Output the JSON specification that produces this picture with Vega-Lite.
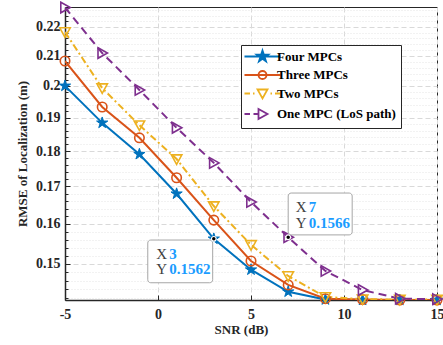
{
  "$schema": "https://vega.github.io/schema/vega-lite/v6.json",
  "width": 372,
  "height": 293,
  "autosize": "none",
  "padding": {"left": 65, "top": 7, "right": 6, "bottom": 45},
  "background": "white",
  "config": {
    "font": "Liberation Serif",
    "view": {"stroke": "#262626", "strokeWidth": 1},
    "axis": {
      "labelFont": "Liberation Serif",
      "labelFontWeight": "bold",
      "labelFontSize": 14,
      "labelColor": "#262626",
      "titleFont": "Liberation Serif",
      "titleFontWeight": "bold",
      "titleFontSize": 13,
      "titleColor": "#262626",
      "domainColor": "#262626",
      "domainWidth": 1.5,
      "tickColor": "#262626",
      "gridColor": "#d9d9d9",
      "labelOverlap": false,
      "labelFlush": false
    }
  },
  "datasets": {
    "curves": [
      {"series": "Four MPCs", "snr": -5, "rmse": 0.2000},
      {"series": "Four MPCs", "snr": -3, "rmse": 0.1884},
      {"series": "Four MPCs", "snr": -1, "rmse": 0.1791},
      {"series": "Four MPCs", "snr": 1, "rmse": 0.1680},
      {"series": "Four MPCs", "snr": 3, "rmse": 0.1562},
      {"series": "Four MPCs", "snr": 5, "rmse": 0.1486},
      {"series": "Four MPCs", "snr": 7, "rmse": 0.1434},
      {"series": "Four MPCs", "snr": 9, "rmse": 0.1416},
      {"series": "Four MPCs", "snr": 11, "rmse": 0.1415},
      {"series": "Four MPCs", "snr": 13, "rmse": 0.1415},
      {"series": "Four MPCs", "snr": 15, "rmse": 0.1415},
      {"series": "Three MPCs", "snr": -5, "rmse": 0.2082},
      {"series": "Three MPCs", "snr": -3, "rmse": 0.1933},
      {"series": "Three MPCs", "snr": -1, "rmse": 0.1839},
      {"series": "Three MPCs", "snr": 1, "rmse": 0.1724},
      {"series": "Three MPCs", "snr": 3, "rmse": 0.1610},
      {"series": "Three MPCs", "snr": 5, "rmse": 0.1507},
      {"series": "Three MPCs", "snr": 7, "rmse": 0.1450},
      {"series": "Three MPCs", "snr": 9, "rmse": 0.1418},
      {"series": "Three MPCs", "snr": 11, "rmse": 0.1416},
      {"series": "Three MPCs", "snr": 13, "rmse": 0.1415},
      {"series": "Three MPCs", "snr": 15, "rmse": 0.1415},
      {"series": "Two MPCs", "snr": -5, "rmse": 0.2182},
      {"series": "Two MPCs", "snr": -3, "rmse": 0.1993},
      {"series": "Two MPCs", "snr": -1, "rmse": 0.1877},
      {"series": "Two MPCs", "snr": 1, "rmse": 0.1777},
      {"series": "Two MPCs", "snr": 3, "rmse": 0.1647},
      {"series": "Two MPCs", "snr": 5, "rmse": 0.1547},
      {"series": "Two MPCs", "snr": 7, "rmse": 0.1471},
      {"series": "Two MPCs", "snr": 9, "rmse": 0.1422},
      {"series": "Two MPCs", "snr": 11, "rmse": 0.1417},
      {"series": "Two MPCs", "snr": 13, "rmse": 0.1416},
      {"series": "Two MPCs", "snr": 15, "rmse": 0.1416},
      {"series": "One MPC (LoS path)", "snr": -5, "rmse": 0.2270},
      {"series": "One MPC (LoS path)", "snr": -3, "rmse": 0.2109},
      {"series": "One MPC (LoS path)", "snr": -1, "rmse": 0.1987},
      {"series": "One MPC (LoS path)", "snr": 1, "rmse": 0.1869},
      {"series": "One MPC (LoS path)", "snr": 3, "rmse": 0.1766},
      {"series": "One MPC (LoS path)", "snr": 5, "rmse": 0.1658},
      {"series": "One MPC (LoS path)", "snr": 7, "rmse": 0.1566},
      {"series": "One MPC (LoS path)", "snr": 9, "rmse": 0.1483},
      {"series": "One MPC (LoS path)", "snr": 11, "rmse": 0.1438},
      {"series": "One MPC (LoS path)", "snr": 13, "rmse": 0.1418},
      {"series": "One MPC (LoS path)", "snr": 15, "rmse": 0.1417}
    ],
    "tips": [
      {"tip": 1, "snr": 3, "rmse": 0.1562, "left": -0.55, "right": 2.94, "top": 0.1559, "bottom": 0.1455},
      {"tip": 2, "snr": 7, "rmse": 0.1566, "left": 7.0, "right": 10.44, "top": 0.1682, "bottom": 0.1572}
    ],
    "tiptext": [
      {"tip": 1, "label": "X", "value": "3", "snr": -0.1, "rmse": 0.1524},
      {"tip": 1, "label": "Y", "value": "0.1562", "snr": -0.1, "rmse": 0.1488},
      {"tip": 2, "label": "X", "value": "7", "snr": 7.4, "rmse": 0.1645},
      {"tip": 2, "label": "Y", "value": "0.1566", "snr": 7.4, "rmse": 0.1603}
    ]
  },
  "encoding": {
    "x": {
      "field": "snr", "type": "quantitative",
      "scale": {"domain": [-5, 15], "nice": false, "zero": false},
      "axis": {
        "values": [-5, 0, 5, 10, 15],
        "labelExpr": "replace(datum.label, '\u2212', '-')",
        "title": "SNR (dB)",
        "grid": true,
        "gridDash": [5, 3],
        "tickSize": -5,
        "labelPadding": 12,
        "titlePadding": 2,
        "titleX": 176
      }
    },
    "y": {
      "field": "rmse", "type": "quantitative",
      "scale": {"type": "log", "domain": [0.14150, 0.2272], "nice": false, "zero": false},
      "axis": {
        "values": [0.142, 0.144, 0.146, 0.148, 0.15, 0.152, 0.154, 0.156, 0.158, 0.16, 0.162, 0.164, 0.166, 0.168, 0.17, 0.172, 0.174, 0.176, 0.178, 0.18, 0.182, 0.184, 0.186, 0.188, 0.19, 0.192, 0.194, 0.196, 0.198, 0.2, 0.202, 0.204, 0.206, 0.208, 0.21, 0.212, 0.214, 0.216, 0.218, 0.22, 0.222, 0.224, 0.226],
        "labelExpr": "abs(datum.value*100 - round(datum.value*100)) < 0.001 ? format(datum.value, '.2~f') : ''",
        "title": "RMSE of Localization (m)",
        "grid": true,
        "gridDash": {"condition": {"test": "abs(datum.value*100 - round(datum.value*100)) < 0.001", "value": [5, 3]}, "value": [1, 2]},
        "gridColor": {"condition": {"test": "abs(datum.value*100 - round(datum.value*100)) < 0.001", "value": "#d9d9d9"}, "value": "#e4e4e4"},
        "tickSize": {"condition": {"test": "abs(datum.value*100 - round(datum.value*100)) < 0.001", "value": -5}, "value": -3},
        "labelPadding": 10,
        "titlePadding": 6
      }
    }
  },
  "layer": [
    {
      "data": {"name": "curves"},
      "mark": {"type": "point", "filled": false, "strokeWidth": 1.8, "opacity": 0},
      "encoding": {
        "color": {
          "field": "series", "type": "nominal",
          "scale": {"domain": ["Four MPCs", "Three MPCs", "Two MPCs", "One MPC (LoS path)"], "range": ["#0072BD", "#D95319", "#EDB120", "#7E2F8E"]},
          "legend": {
            "title": null,
            "orient": "none",
            "legendX": 176,
            "legendY": 38,
            "direction": "vertical",
            "strokeColor": "#262626",
            "fillColor": "white",
            "padding": 5,
            "rowPadding": 1.5,
            "labelFont": "Liberation Serif",
            "labelFontWeight": "bold",
            "labelFontSize": 13,
            "labelColor": "black",
            "symbolSize": 100,
            "symbolOpacity": 1,
            "symbolOffset": 10,
            "labelOffset": 8,
            "symbolStrokeWidth": 1.8
          }
        },
        "fill": {
          "field": "series", "type": "nominal",
          "scale": {"domain": ["Four MPCs", "Three MPCs", "Two MPCs", "One MPC (LoS path)"], "range": ["#0072BD", "transparent", "transparent", "transparent"]},
          "legend": null
        },
        "shape": {
          "field": "series", "type": "nominal",
          "scale": {"domain": ["Four MPCs", "Three MPCs", "Two MPCs", "One MPC (LoS path)"], "range": [
            "M-3.6,0L3.6,0M0,-1.2L0.27,-0.37L1.14,-0.37L0.44,0.14L0.71,0.97L0,0.46L-0.71,0.97L-0.44,0.14L-1.14,-0.37L-0.27,-0.37ZM0,-0.7L0.16,-0.22L0.67,-0.22L0.26,0.08L0.41,0.57L0,0.27L-0.41,0.57L-0.26,0.08L-0.67,-0.22L-0.16,-0.22ZM0,-0.3L0.07,-0.09L0.28,-0.09L0.11,0.03L0.18,0.24L0,0.12L-0.18,0.24L-0.11,0.03L-0.28,-0.09L-0.07,-0.09Z",
            "M-3.6,0L3.6,0M0.8,0A0.8,0.8 0 1,1 -0.8,0A0.8,0.8 0 1,1 0.8,0Z",
            "M-3.6,0L-2.5,0M-1.9,0L-1.6,0M1.6,0L1.9,0M2.5,0L3.6,0M-1,-0.8L1,-0.8L0,1Z",
            "M-3.6,0L-2.5,0M-1.8,0L-0.8,0M-0.8,-1L1,0L-0.8,1Z"
          ]},
          "legend": null
        }
      }
    },
    {
      "data": {"name": "curves"},
      "transform": [{"filter": {"field": "series", "oneOf": ["Four MPCs", "Three MPCs"]}}],
      "mark": {"type": "line", "strokeWidth": 2, "clip": true},
      "encoding": {"color": {"field": "series", "type": "nominal", "legend": null}}
    },
    {
      "data": {"name": "curves"},
      "transform": [{"filter": {"field": "series", "equal": "Two MPCs"}}],
      "mark": {"type": "line", "strokeWidth": 2, "clip": true, "strokeDash": [7, 3, 2, 3]},
      "encoding": {"color": {"field": "series", "type": "nominal", "legend": null}}
    },
    {
      "data": {"name": "curves"},
      "transform": [{"filter": {"field": "series", "equal": "One MPC (LoS path)"}}],
      "mark": {"type": "line", "strokeWidth": 2, "clip": true, "strokeDash": [8, 5]},
      "encoding": {"color": {"field": "series", "type": "nominal", "legend": null}}
    },
    {
      "data": {"name": "curves"},
      "transform": [{"filter": {"field": "series", "equal": "Four MPCs"}}],
      "mark": {"type": "point", "filled": true, "fill": "#0072BD", "stroke": "#0072BD", "strokeWidth": 1, "opacity": 1, "size": 140,
        "shape": "M0,-1L0.2245,-0.309L0.951,-0.309L0.363,0.118L0.588,0.809L0,0.382L-0.588,0.809L-0.363,0.118L-0.951,-0.309L-0.2245,-0.309Z"},
      "encoding": {}
    },
    {
      "data": {"name": "curves"},
      "transform": [{"filter": {"field": "series", "equal": "Three MPCs"}}],
      "mark": {"type": "point", "filled": false, "strokeWidth": 1.6, "opacity": 1, "size": 90,
        "shape": "M1,0A1,1 0 1,1 -1,0A1,1 0 1,1 1,0Z"},
      "encoding": {"color": {"field": "series", "type": "nominal", "legend": null}}
    },
    {
      "data": {"name": "curves"},
      "transform": [{"filter": {"field": "series", "equal": "Two MPCs"}}],
      "mark": {"type": "point", "filled": false, "strokeWidth": 1.6, "opacity": 1, "size": 110,
        "shape": "M-1,-0.8L1,-0.8L0,1Z"},
      "encoding": {"color": {"field": "series", "type": "nominal", "legend": null}}
    },
    {
      "data": {"name": "curves"},
      "transform": [{"filter": {"field": "series", "equal": "One MPC (LoS path)"}}],
      "mark": {"type": "point", "filled": false, "strokeWidth": 1.6, "opacity": 1, "size": 110,
        "shape": "M-0.8,-1L1,0L-0.8,1Z"},
      "encoding": {"color": {"field": "series", "type": "nominal", "legend": null}}
    },
    {
      "data": {"name": "tips"},
      "mark": {"type": "rect", "fill": "white", "stroke": "#a6a6a6", "strokeWidth": 1, "cornerRadius": 3},
      "encoding": {
        "x": {"field": "left", "type": "quantitative"},
        "x2": {"field": "right"},
        "y": {"field": "top", "type": "quantitative"},
        "y2": {"field": "bottom"}
      }
    },
    {
      "data": {"name": "tips"},
      "mark": {"type": "point", "filled": true, "fill": "black", "stroke": "white", "strokeWidth": 1.2, "size": 22, "opacity": 1, "shape": "circle"},
      "encoding": {}
    },
    {
      "data": {"name": "tiptext"},
      "mark": {"type": "text", "align": "left", "baseline": "middle", "font": "Liberation Serif", "fontSize": 15, "color": "#404040"},
      "encoding": {"text": {"field": "label"}}
    },
    {
      "data": {"name": "tiptext"},
      "mark": {"type": "text", "align": "left", "baseline": "middle", "font": "Liberation Serif", "fontSize": 15, "fontWeight": "bold", "color": "#1a9cff", "dx": 13},
      "encoding": {"text": {"field": "value"}}
    }
  ]
}
